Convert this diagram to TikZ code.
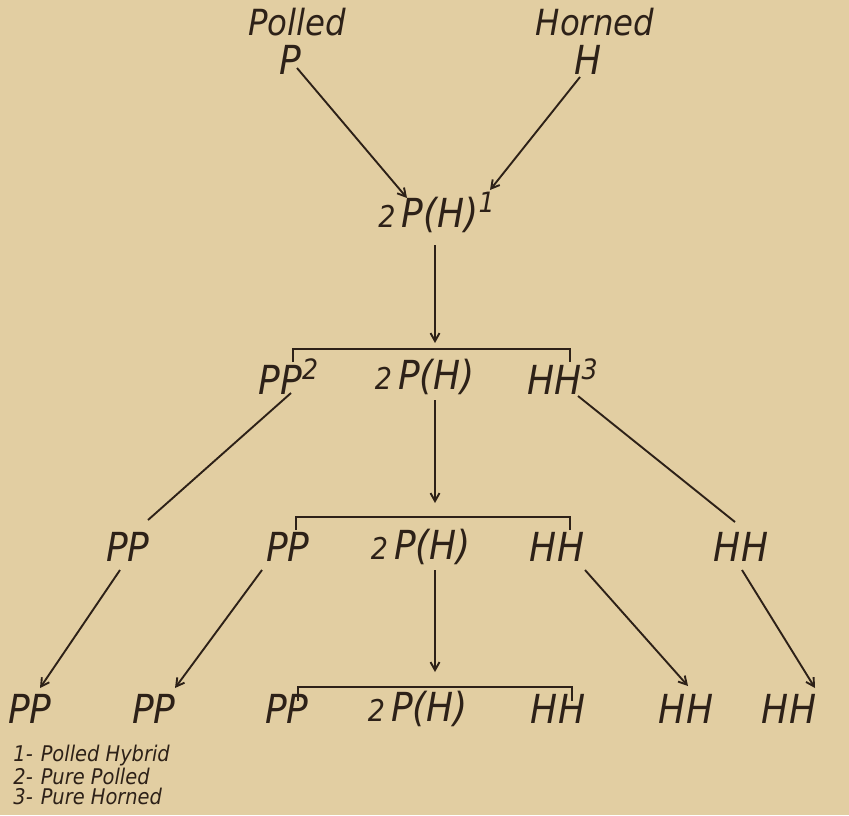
\documentclass[tikz,border=0pt]{standalone}
\usepackage{fontspec}
\setmainfont{DejaVu Sans Condensed}
\usetikzlibrary{arrows.meta}
\definecolor{paper}{RGB}{226,206,162}
\definecolor{ink}{RGB}{45,33,24}
\begin{document}
\begin{tikzpicture}[x=0.5pt,y=-0.5pt,
  lab/.style={inner sep=0pt, text=ink, font=\fontsize{20}{22}\selectfont\itshape},
  toplab/.style={inner sep=0pt, text=ink, font=\fontsize{18}{20}\selectfont\itshape},
  leg/.style={inner sep=0pt, text=ink, anchor=west, font=\fontsize{10.8}{12}\selectfont\itshape},
  arr/.style={draw=ink, line width=0.95pt, -{Straight Barb[length=4pt,width=4.5pt]}},
  ln/.style={draw=ink, line width=0.95pt},
  brk/.style={draw=ink, line width=1.1pt}]
\newcommand{\two}{{\fontsize{15}{15}\selectfont 2}\hspace{3pt}}
\fill[paper] (0,0) rectangle (849,815);
\useasboundingbox (0,0) rectangle (849,815);
% top
\node[toplab] (polled) at (297,22) {Polled};
\node[lab] (P) at (290,60) {P};
\node[toplab] (horned) at (595,22) {Horned};
\node[lab] (H) at (588,60) {H};
\node[lab] (F1) at (437,212) {\two P(H)\textsuperscript{1}};
% row 2
\node[lab] (A2) at (289,377) {PP\textsuperscript{2}};
\node[lab] (F2) at (425,377) {\two P(H)};
\node[lab] (C2) at (563,377) {HH\textsuperscript{3}};
% row 3
\node[lab] (A3) at (128,547) {PP};
\node[lab] (B3) at (288,547) {PP};
\node[lab] (F3) at (421,547) {\two P(H)};
\node[lab] (D3) at (557,547) {HH};
\node[lab] (E3) at (741,547) {HH};
% row 4
\node[lab] (A4) at (30,709) {PP};
\node[lab] (B4) at (154,709) {PP};
\node[lab] (C4) at (287,709) {PP};
\node[lab] (F4) at (418,709) {\two P(H)};
\node[lab] (D4) at (558,709) {HH};
\node[lab] (E4) at (686,709) {HH};
\node[lab] (G4) at (789,709) {HH};
% legend
\node[leg] (l1) at (13,756) {1-\hspace{4pt}Polled Hybrid};
\node[leg] (l2) at (13,776) {2-\hspace{4pt}Pure Polled};
\node[leg] (l3) at (13,796) {3-\hspace{4pt}Pure Horned};
% connector end points
\coordinate (p0) at (297,68);   \coordinate (p1) at (407,198);
\coordinate (h0) at (580,77);   \coordinate (h1) at (490,190);
\coordinate (f1a) at (435,245); \coordinate (f1b) at (435,343);
\coordinate (a2a) at (291,393); \coordinate (a2b) at (148,520);
\coordinate (c2a) at (578,396); \coordinate (c2b) at (735,522);
\coordinate (f2a) at (435,400); \coordinate (f2b) at (435,503);
\coordinate (a3a) at (120,570); \coordinate (a3b) at (40,688);
\coordinate (b3a) at (262,570); \coordinate (b3b) at (175,688);
\coordinate (f3a) at (435,570); \coordinate (f3b) at (435,672);
\coordinate (d3a) at (585,570); \coordinate (d3b) at (688,686);
\coordinate (e3a) at (742,570); \coordinate (e3b) at (815,688);
% brackets
\coordinate (k1l) at (293,362); \coordinate (k1r) at (570,362);
\coordinate (k2l) at (296,530); \coordinate (k2r) at (570,530);
\coordinate (k3l) at (298,701); \coordinate (k3r) at (572,701);
\draw[brk] (k1l) -- ++(0,-13) -| (k1r);
\draw[brk] (k2l) -- ++(0,-13) -| (k2r);
\draw[brk] (k3l) -- ++(0,-14) -| (k3r);
% connectors
\draw[arr] (p0) -- (p1);
\draw[arr] (h0) -- (h1);
\draw[arr] (f1a) -- (f1b);
\draw[ln] (a2a) -- (a2b);
\draw[ln] (c2a) -- (c2b);
\draw[arr] (f2a) -- (f2b);
\draw[arr] (a3a) -- (a3b);
\draw[arr] (b3a) -- (b3b);
\draw[arr] (f3a) -- (f3b);
\draw[arr] (d3a) -- (d3b);
\draw[arr] (e3a) -- (e3b);
\end{tikzpicture}
\end{document}
